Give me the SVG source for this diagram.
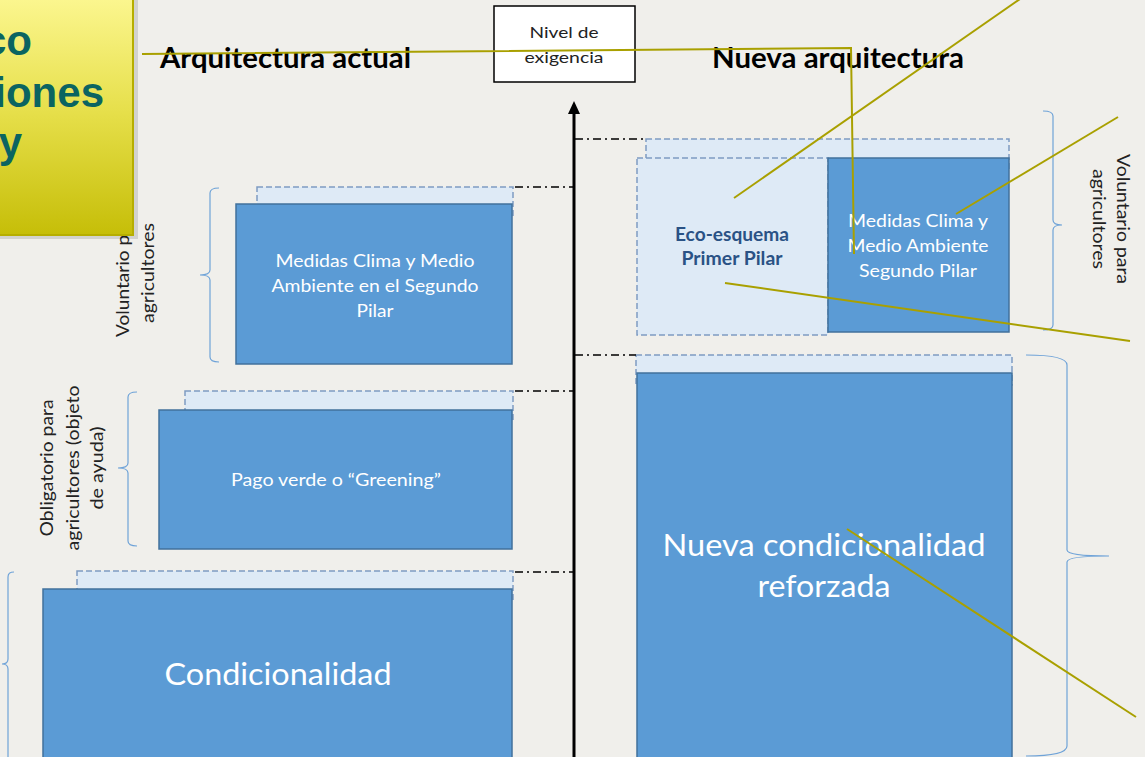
<svg xmlns="http://www.w3.org/2000/svg" width="1145" height="757" viewBox="0 0 1145 757">
<defs>
<linearGradient id="yg" x1="0" y1="0" x2="0" y2="1">
<stop offset="0" stop-color="#fdf894"/>
<stop offset="0.5" stop-color="#e6df4a"/>
<stop offset="1" stop-color="#c6be08"/>
</linearGradient>
<style>
.blue{fill:#5b9bd5;stroke:#41719c;stroke-width:1.5}
.light{fill:#deeaf6;stroke:#7f9cc2;stroke-width:1.5;stroke-dasharray:6 3}
.brace{fill:none;stroke:#6fa3d8;stroke-width:1.2}
.lead{stroke:#000;stroke-width:1.5;stroke-dasharray:8 4 2 4;fill:none}
.olive{stroke:#a9a000;stroke-width:2;fill:none}
.t{font-family:Lato,"Liberation Sans",sans-serif}
.w{fill:#fff}
.k{fill:#222}
.title{font-family:Lato,"Liberation Sans",sans-serif;font-weight:bold;font-size:28px;fill:#000}
</style>
</defs>
<rect x="0" y="0" width="1145" height="757" fill="#f0efeb"/>

<g id="brackets">
<path class="brace" d="M219,188 Q210,188 210,193 L210,270 Q210,275 200,275 Q210,275 210,280 L210,357 Q210,362 219,362"/>
<path class="brace" d="M137,392 Q128,392 128,397 L128,463 Q128,468 118,468 Q128,468 128,473 L128,541 Q128,546 137,546"/>
<path class="brace" d="M14,572 Q8,572 8,577 L8,659 Q8,664 2,664 Q8,664 8,669 L8,760"/>
<path class="brace" d="M1043,111 Q1053,111 1053,116 L1053,220 Q1053,225 1062,225 Q1053,225 1053,230 L1053,325 Q1053,330 1043,330"/>
<path class="brace" d="M1026,355 Q1067,355 1067,365 L1067,550 Q1067,556 1109,556 Q1067,556 1067,562 L1067,746 Q1067,756 1026,756"/>
</g>

<g id="label-vol-left" class="t k" font-size="17">
<text transform="translate(129,273) rotate(-90)" text-anchor="middle" textLength="128" lengthAdjust="spacingAndGlyphs">Voluntario para</text>
<text transform="translate(154,273) rotate(-90)" text-anchor="middle" textLength="100" lengthAdjust="spacingAndGlyphs">agricultores</text>
</g>

<g id="label-oblig" class="t k" font-size="17">
<text transform="translate(53,468) rotate(-90)" text-anchor="middle" textLength="137" lengthAdjust="spacingAndGlyphs">Obligatorio para</text>
<text transform="translate(79,468) rotate(-90)" text-anchor="middle" textLength="165" lengthAdjust="spacingAndGlyphs">agricultores (objeto</text>
<text transform="translate(103,468) rotate(-90)" text-anchor="middle" textLength="83" lengthAdjust="spacingAndGlyphs">de ayuda)</text>
</g>

<g id="label-vol-right" class="t k" font-size="17">
<text transform="translate(1117,219) rotate(90)" text-anchor="middle" textLength="130" lengthAdjust="spacingAndGlyphs">Voluntario para</text>
<text transform="translate(1093,219) rotate(90)" text-anchor="middle" textLength="100" lengthAdjust="spacingAndGlyphs">agricultores</text>
</g>

<g id="box-medidas-2p">
<rect class="light" x="257" y="187" width="256" height="30"/>
<rect class="blue" x="236" y="204" width="276" height="160"/>
<g class="t w" font-size="18" text-anchor="middle">
<text x="375" y="267" textLength="199" lengthAdjust="spacingAndGlyphs">Medidas Clima y Medio</text>
<text x="375" y="292" textLength="207" lengthAdjust="spacingAndGlyphs">Ambiente en el Segundo</text>
<text x="375" y="317" textLength="37" lengthAdjust="spacingAndGlyphs">Pilar</text>
</g>
</g>

<g id="box-greening">
<rect class="light" x="185" y="391" width="328" height="30"/>
<rect class="blue" x="159" y="410" width="353" height="139"/>
<text class="t w" x="336" y="486" font-size="17" text-anchor="middle" textLength="210" lengthAdjust="spacingAndGlyphs">Pago verde o “Greening”</text>
</g>

<g id="box-condicionalidad">
<rect class="light" x="77" y="571" width="436" height="30"/>
<rect class="blue" x="43" y="589" width="469" height="180"/>
<text class="t w" x="278" y="685" font-size="31" text-anchor="middle" textLength="227" lengthAdjust="spacingAndGlyphs">Condicionalidad</text>
</g>

<g id="box-eco-top">
<rect class="light" x="646" y="139" width="363" height="30"/>
</g>

<g id="box-eco">
<rect class="light" x="637" y="158" width="191" height="177"/>
<g class="t" font-size="18" font-weight="bold" fill="#2a5285" text-anchor="middle">
<text x="732" y="241" textLength="114" lengthAdjust="spacingAndGlyphs">Eco-esquema</text>
<text x="732" y="265" textLength="101" lengthAdjust="spacingAndGlyphs">Primer Pilar</text>
</g>
</g>

<g id="box-medidas-nueva">
<rect class="blue" x="828" y="158" width="181" height="174"/>
<g class="t w" font-size="18" text-anchor="middle">
<text x="918" y="227" textLength="140" lengthAdjust="spacingAndGlyphs">Medidas Clima y</text>
<text x="918" y="252" textLength="141" lengthAdjust="spacingAndGlyphs">Medio Ambiente</text>
<text x="918" y="277" textLength="118" lengthAdjust="spacingAndGlyphs">Segundo Pilar</text>
</g>
</g>

<g id="box-nueva-cond">
<rect class="light" x="636" y="355" width="376" height="30"/>
<rect class="blue" x="637" y="373" width="375" height="400"/>
<g class="t w" font-size="31" text-anchor="middle">
<text x="824" y="556" textLength="323" lengthAdjust="spacingAndGlyphs">Nueva condicionalidad</text>
<text x="824" y="597" textLength="133" lengthAdjust="spacingAndGlyphs">reforzada</text>
</g>
</g>

<g id="axis">
<line x1="574" y1="112" x2="574" y2="757" stroke="#000" stroke-width="3"/>
<polygon points="574,101 568,114 580,114" fill="#000"/>
</g>

<g id="nivel">
<rect x="494" y="6" width="141" height="76" fill="#fff" stroke="#000" stroke-width="1.5"/>
<g class="t k" font-size="16" text-anchor="middle">
<text x="564" y="38" textLength="69" lengthAdjust="spacingAndGlyphs">Nivel de</text>
<text x="564" y="63" textLength="79" lengthAdjust="spacingAndGlyphs">exigencia</text>
</g>
</g>

<g id="title-actual">
<text class="title" x="160" y="68" textLength="251" lengthAdjust="spacingAndGlyphs">Arquitectura actual</text>
</g>
<g id="title-nueva">
<text class="title" x="712" y="68" textLength="252" lengthAdjust="spacingAndGlyphs">Nueva arquitectura</text>
</g>

<g id="yellow-box">
<rect x="-8" y="-8" width="146" height="247" fill="#000" opacity="0.12"/>
<rect x="-10" y="-10" width="143" height="245" fill="url(#yg)" stroke="#b6ae00" stroke-width="2"/>
<g font-family="'Liberation Sans',Arial,sans-serif" font-weight="bold" font-size="42" fill="#0b6461" text-anchor="end">
<text x="32" y="55">co</text>
<text x="104" y="107">iones</text>
<text x="22" y="157">y</text>
</g>
</g>

<g id="connectors">
<path class="lead" d="M515,187 H573"/>
<path class="lead" d="M515,391 H573"/>
<path class="lead" d="M515,572 H573"/>
<path class="lead" d="M575,139 H645"/>
<path class="lead" d="M575,355 H636"/>
<path class="olive" d="M142,54 L851,48 L854,254"/>
<path class="olive" d="M1020,-1 L734,198"/>
<path class="olive" d="M1118,117 L956,214"/>
<path class="olive" d="M725,283 L1130,341"/>
<path class="olive" d="M847,529 L1136,717"/>
</g>
</svg>
